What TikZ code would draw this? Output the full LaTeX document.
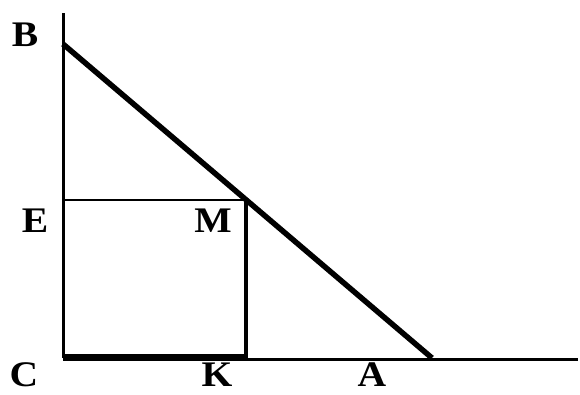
\documentclass[tikz,border=0pt]{standalone}
\usepackage{fontspec}
\setmainfont{Liberation Serif}
\begin{document}
\begin{tikzpicture}[x=1pt,y=-1pt,
  lbl/.style={font=\fontsize{36}{36}\selectfont\bfseries, inner sep=0pt, xscale=1.1},
  axis/.style={line width=3pt},
  thin/.style={line width=2.4pt},
  heavy/.style={line width=5.5pt}]
\useasboundingbox (0,0) rectangle (580,394);
\coordinate (Ctop) at (63,13);
\coordinate (C) at (63,358);
\coordinate (B) at (63,44);
\coordinate (A) at (432,358);
\coordinate (E) at (63,200);
\coordinate (M) at (246,200);
\coordinate (K) at (246,357);
\coordinate (End) at (578,359);
\coordinate (Cb) at (63,359);
\draw[axis] (Ctop) -- (C);
\draw[axis] (Cb) -- (End);
\draw[line width=4.5pt] (63,356.5) -- (248,356.5);
\draw[thin] (E) -- (M);
\draw[line width=3.5pt] (M) -- (K);
\draw[heavy] (B) -- (A);
\node[lbl] (lB) at (25,35) {B};
\node[lbl] (lE) at (35,221) {E};
\node[lbl] (lM) at (213,221) {M};
\node[lbl] (lC) at (24,375) {C};
\node[lbl] (lK) at (217,375) {K};
\node[lbl] (lA) at (372,375) {A};
\end{tikzpicture}
\end{document}
